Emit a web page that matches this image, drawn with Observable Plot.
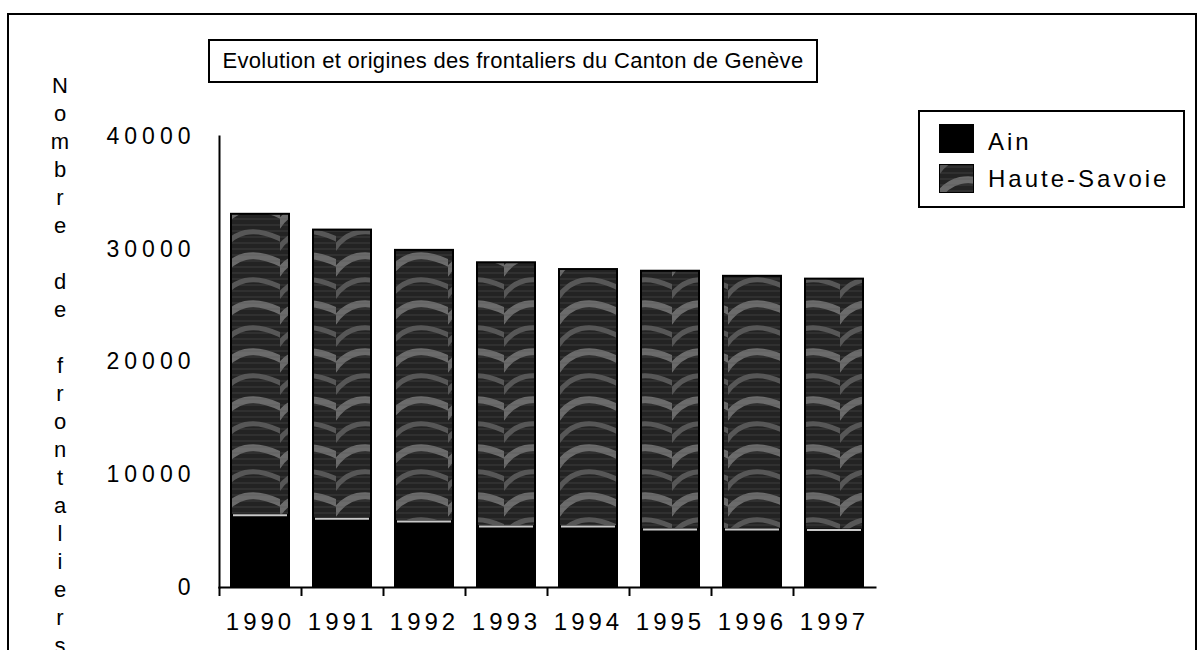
<!DOCTYPE html>
<html>
<head>
<meta charset="utf-8">
<script src="https://cdn.jsdelivr.net/npm/d3@7"></script>
<script src="https://cdn.jsdelivr.net/npm/@observablehq/plot@0.6"></script>
<style>
  html, body { margin: 0; padding: 0; background: #fff; }
  #wrap { position: relative; width: 1204px; height: 650px; overflow: hidden; background: #fff;
          font-family: "Liberation Sans", Arial, Helvetica, sans-serif; color: #000; }
  #wrap > svg.plot { position: absolute; left: 0; top: 0; }
  .abs { position: absolute; box-sizing: border-box; }
  #frame { left: 7px; top: 13px; width: 1190px; height: 700px; border: 2px solid #000; }
  #title { left: 208px; top: 39px; width: 610px; height: 44px; border: 2px solid #000;
           font-size: 22px; letter-spacing: 0.3px; line-height: 40px; text-align: center; white-space: nowrap; }
  #legend { left: 918px; top: 110px; width: 267px; height: 98px; border: 2px solid #000; }
  .sw { position: absolute; left: 19px; width: 35px; height: 29px; }
  .lt { position: absolute; left: 68px; font-size: 24px; letter-spacing: 3px; line-height: 24px; white-space: nowrap; }
  #ylab { left: 45px; top: 72px; width: 30px; text-align: center; font-size: 22px; line-height: 28px; }
</style>
</head>
<body>
<svg width="0" height="0" style="position:absolute">
  <defs>
    <pattern id="hsPattern" patternUnits="userSpaceOnUse" width="56" height="48">
      <rect width="56" height="48" fill="#232323"/>
      <path d="M-6,40 C8,14 30,8 62,26" fill="none" stroke="#8a8a8a" stroke-width="7" stroke-opacity="0.7"/>
      <path d="M-6,16 C8,-10 30,-16 62,2" fill="none" stroke="#7a7a7a" stroke-width="5" stroke-opacity="0.6"/>
      <path d="M-6,64 C8,38 30,32 62,50" fill="none" stroke="#7a7a7a" stroke-width="5" stroke-opacity="0.6"/>
      <path d="M0,3H56M0,9H56M0,15H56M0,21H56M0,27H56M0,33H56M0,39H56M0,45H56" stroke="#555" stroke-width="1" stroke-opacity="0.5"/>
    </pattern>
  </defs>
</svg>
<div id="wrap"></div>
<script>
// ---- data ----
const years = ["1990", "1991", "1992", "1993", "1994", "1995", "1996", "1997"];
const ain = [6400, 6100, 5850, 5400, 5400, 5150, 5150, 5100];
const hauteSavoie = [26700, 25600, 24050, 23400, 22800, 22900, 22450, 22250];
const series = ["Ain", "Haute-Savoie"];
const yTicks = [0, 10000, 20000, 30000, 40000];
const titleText = "Evolution et origines des frontaliers du Canton de Genève";
const yLabel = "Nombre de frontaliers";

// ---- layout ----
const W = 1204, H = 650;
const mL = 219, mR = 329, mT = 136, mB = 63;
const step = (W - mL - mR) / years.length;

const rows = [];
years.forEach((y, i) => {
  rows.push({ year: y, serie: "Ain", value: ain[i] });
  rows.push({ year: y, serie: "Haute-Savoie", value: hauteSavoie[i] });
});
const ainRows = years.map((y, i) => ({ year: y, value: ain[i] }));

const chart = Plot.plot({
  width: W, height: H,
  marginLeft: mL, marginRight: mR, marginTop: mT, marginBottom: mB,
  style: { fontFamily: "Liberation Sans, Arial, sans-serif", background: "transparent", color: "#000" },
  x: { domain: years, paddingInner: 0.29, paddingOuter: 0.145, axis: null, label: null },
  y: { domain: [0, 40000], axis: null, label: null },
  color: { domain: series, range: ["#000", "url(#hsPattern)"] },
  marks: [
    Plot.barY(rows, Plot.stackY({ x: "year", y: "value", fill: "serie", order: series,
      stroke: "#000", strokeWidth: 2 })),
    Plot.tickY(ainRows, { x: "year", y: "value", stroke: "#c9c9c9", strokeWidth: 2, inset: 2 }),
    Plot.frame({ anchor: "left", stroke: "#000", strokeWidth: 2 }),
    Plot.frame({ anchor: "bottom", stroke: "#000", strokeWidth: 2 }),
    Plot.axisY({ ticks: yTicks, tickSize: 0, tickPadding: 24, fontSize: 23, label: null, tickFormat: d => String(d) }),
    Plot.axisX({ ticks: years, tickSize: 9, text: null, label: null, dx: -step / 2, strokeWidth: 2 }),
    Plot.axisX({ ticks: years, tickSize: 0, tickPadding: 25, fontSize: 24, label: null })
  ]
});
chart.classList.add("plot");
d3.select(chart).selectAll('g[aria-label="y-axis tick label"] text')
  .style("letter-spacing", "5px");
d3.select(chart).selectAll('g[aria-label="x-axis tick label"] text')
  .style("letter-spacing", "4px");

const wrap = document.getElementById("wrap");
wrap.appendChild(chart);

// frame
const frame = document.createElement("div");
frame.className = "abs"; frame.id = "frame";
wrap.appendChild(frame);

// title
const title = document.createElement("div");
title.className = "abs"; title.id = "title";
title.textContent = titleText;
wrap.appendChild(title);

// vertical y label (one letter per line)
const yl = document.createElement("div");
yl.className = "abs"; yl.id = "ylab";
yl.innerHTML = yLabel.split("").map(c => c === " " ? "&nbsp;" : c).join("<br>");
wrap.appendChild(yl);

// legend
const legend = document.createElement("div");
legend.className = "abs"; legend.id = "legend";
const swTops = [12, 52], txtTops = [18, 55];
series.forEach((s, i) => {
  const sw = document.createElement("div");
  sw.className = "sw";
  sw.style.top = swTops[i] + "px";
  if (s === "Ain") {
    sw.style.background = "#000";
  } else {
    sw.innerHTML = '<svg width="35" height="29"><rect width="35" height="29" fill="url(#hsPattern)" stroke="#000" stroke-width="2"/></svg>';
  }
  legend.appendChild(sw);
  const t = document.createElement("div");
  t.className = "lt";
  t.style.top = txtTops[i] + "px";
  t.textContent = s;
  legend.appendChild(t);
});
wrap.appendChild(legend);
</script>
</body>
</html>
